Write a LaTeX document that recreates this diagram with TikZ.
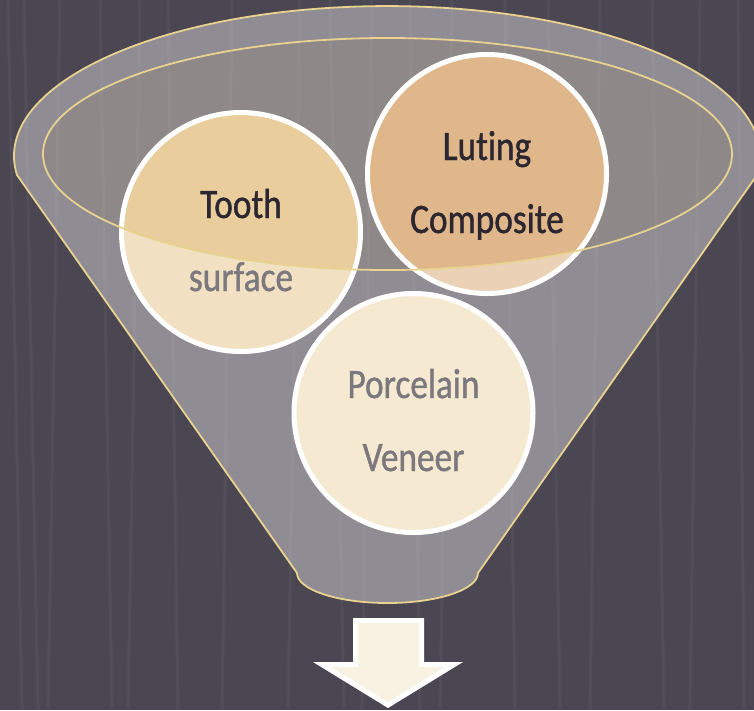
\documentclass[tikz,border=0pt]{standalone}
\usepackage{fontspec}
\setmainfont[FakeStretch=0.84, FakeBold=1, Ligatures=NoCommon]{Carlito}
\definecolor{bg}{HTML}{4B4752}
\definecolor{mouth}{HTML}{8E8889}
\definecolor{gold}{HTML}{E8D28F}
\definecolor{toothc}{HTML}{E9CD9C}
\definecolor{lutingc}{HTML}{DFB78A}
\definecolor{porcc}{HTML}{EFDEB6}
\definecolor{ink}{HTML}{2B2630}
\definecolor{cream}{HTML}{F8F2E3}
\tikzset{
  ball/.style={circle, draw=white, line width=5pt, minimum size=239pt, inner sep=0pt},
  lbl/.style={anchor=base, text=ink, font=\fontsize{42}{50}\selectfont, inner sep=0pt},
  streak/.style={white, opacity=0.04, line width=3pt},
  rim/.style={draw=gold, line width=1.8pt}
}
\begin{document}
\begin{tikzpicture}[x=1pt,y=-1pt]
\useasboundingbox (0,0) rectangle (754,710);
\fill[bg] (0,0) rectangle (754,710);
% funnel mouth (inside of the top)
\fill[mouth] (387.5,154) ellipse[x radius=344.5, y radius=116];
% faint background streaks
\foreach \a/\b in {8/22, 24/38, 60/48, 100/112, 140/128, 168/178, 232/222, 300/288, 330/344, 372/362, 410/420, 452/440, 505/515, 548/560, 600/590, 652/664, 700/690, 738/744}
  \draw[streak] (\a,0) -- (\b,710);
% circles
\node[ball, fill=toothc] (tooth) at (241,232) {};
\node[ball, fill=lutingc] (luting) at (487,174) {};
\node[ball, fill=porcc] (porc) at (413.5,413) {};
\node[lbl] (t1) at (241,218) {Tooth};
\node[lbl] (t2) at (241,291) {surface};
\node[lbl] (l1) at (487,160) {Luting};
\node[lbl] (l2) at (487,233) {Composite};
\node[lbl] (p1) at (413.5,398) {Porcelain};
\node[lbl] (p2) at (413.5,471) {Veneer};
% translucent funnel body
\fill[white, fill opacity=0.38, even odd rule]
  (17,175) arc[start angle=172.75, end angle=367.25, x radius=373, y radius=150]
  -- (478,573) arc[start angle=0, end angle=180, x radius=90.5, y radius=30]
  -- cycle
  (387.5,154) ellipse[x radius=344.5, y radius=116];
% outlines
\draw[rim]
  (17,175) arc[start angle=172.75, end angle=367.25, x radius=373, y radius=150]
  -- (478,573) arc[start angle=0, end angle=180, x radius=90.5, y radius=30]
  -- cycle;
\draw[rim] (387.5,154) ellipse[x radius=344.5, y radius=116];
% down arrow
\fill[white] (353,618) -- (424,618) -- (424,662) -- (463,662) -- (388,708) -- (313,662) -- (353,662) -- cycle;
\fill[cream] (358,623) -- (419,623) -- (419,667) -- (445,667) -- (388,702) -- (331,667) -- (358,667) -- cycle;
\end{tikzpicture}
\end{document}
